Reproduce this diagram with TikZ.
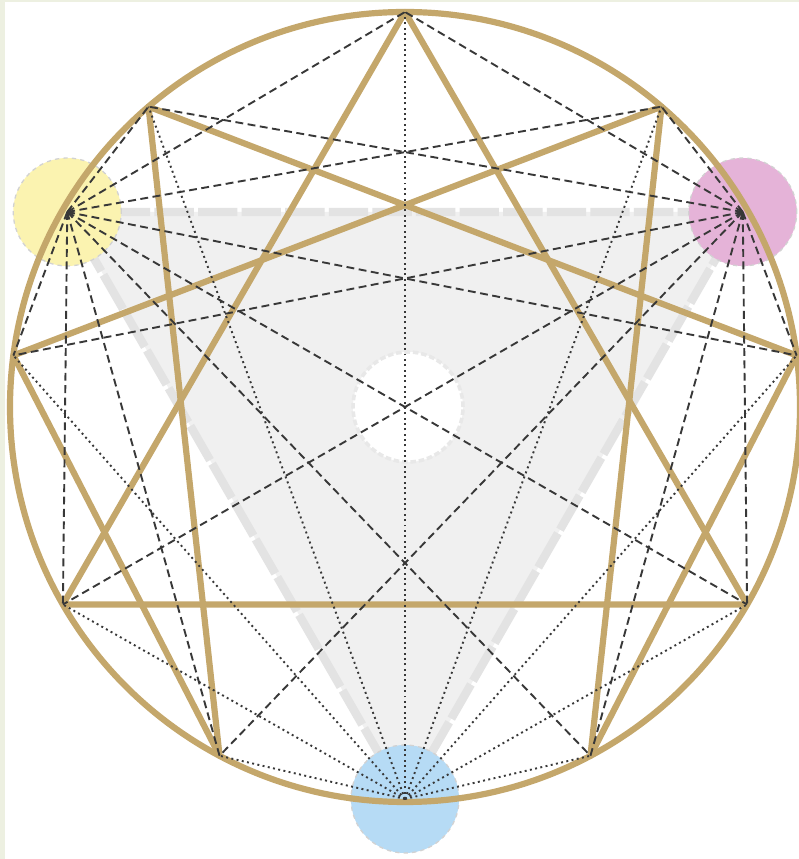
\documentclass[tikz,border=0pt]{standalone}
\usepackage{tikz}
\usetikzlibrary{calc}

\definecolor{goldline}{HTML}{C4A76B}
\definecolor{headY}{HTML}{FBF3B0}
\definecolor{heartP}{HTML}{E5B3D8}
\definecolor{gutB}{HTML}{B6DBF5}
\definecolor{paleframe}{HTML}{EDF0E1}

\begin{document}
\begin{tikzpicture}[
    x=0.025cm, y=0.025cm,
    gold/.style={draw=goldline, line width=4.4pt, line join=round},
    dashline/.style={draw=black!78, line width=1.35pt, dash pattern=on 5.6pt off 3.2pt},
    dotline/.style={draw=black!78, line width=1.35pt, dash pattern=on 1.4pt off 2.4pt},
    tri/.style={fill=gray!12, draw=gray!22, line width=6pt, dash pattern=on 28pt off 3pt, line join=round},
    disc/.style={circle, draw=gray!35, dashed, line width=0.9pt, minimum size=2.7cm, inner sep=0pt},
    hub/.style={circle, fill=white, draw=gray!18, line width=2.5pt, dash pattern=on 4pt off 2pt, minimum size=2.75cm, inner sep=0pt}
]

% =========================================================
% FRAME
% =========================================================
\useasboundingbox (0,0) rectangle (799,859);
\fill[paleframe] (0,0) rectangle (799,859);
\fill[white] (5,0) rectangle (799,857);

% ------------------- POINTS -------------------
\coordinate (c) at (405,452);
\foreach \name/\ang in {t/90, ur/49.5, r/7.5, lr/-30, br/-62, bl/-118, ll/-150, l/172.5, ul/130.5}
    \coordinate (\name) at ($(c)+(\ang:395)$);

\coordinate (Y) at ($(c)+(150:390)$);
\coordinate (P) at ($(c)+(30:390)$);
\coordinate (B) at ($(c)+(-90:392)$);

% ------------------- BACKGROUND SHAPES -------------------
\draw[tri] (Y) -- (P) -- (B) -- cycle;
\node[hub] (mid) at ($(c)+(3,0)$) {};

\node[disc, fill=headY] (yellow) at (Y) {};
\node[disc, fill=heartP] (pink) at (P) {};
\node[disc, fill=gutB] (blue) at (B) {};

% ------------------- GOLD FIGURE -------------------
\draw[gold] (c) circle (395);
\draw[gold] (t) -- (lr) -- (ll) -- cycle;
\draw[gold] (ur) -- (br) -- (r) -- (ul) -- (bl) -- (l) -- cycle;

% ------------------- FANS -------------------
\foreach \p in {t,ur,r,lr,br,bl,ll,l,ul} {
    \draw[dashline] (Y) -- (\p);
    \draw[dashline] (P) -- (\p);
    \draw[dotline] (B) -- (\p);
}

\end{tikzpicture}
\end{document}
